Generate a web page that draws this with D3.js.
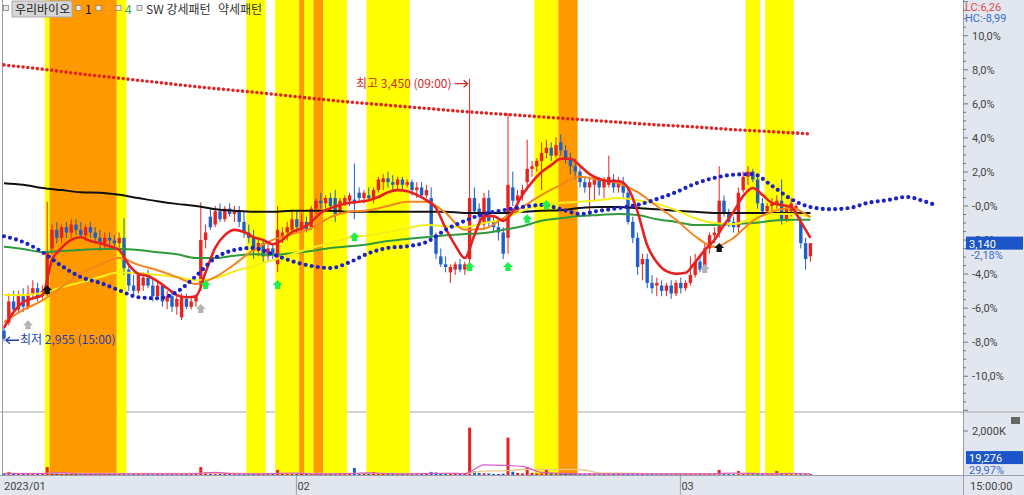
<!DOCTYPE html>
<html><head><meta charset="utf-8">
<script src="https://cdn.jsdelivr.net/npm/d3@7"></script>
<style>
html,body{margin:0;padding:0;background:#fff;}
svg{display:block;font-family:"Noto Sans CJK KR","Noto Sans",sans-serif;}
</style></head><body>
<svg id="c" width="1024" height="495"></svg>
<script>
// ---------------- DATA ----------------
const stockName = "우리바이오";
const basePrice = 3210;                 // reference price for the % axis
const lastPrice = 3140;
const lastPctLabel = "-2,18%";
const lcLabel = "LC:6,26", hcLabel = "HC:-8,99";
const lastVolLabelPct = "29,97%";
const monthLabels = ["2023/01", "02", "03"];
const monthStartBars = [0, 61, 141];
const timeLabel = "15:00:00";
const pctTicks = [10, 8, 6, 4, 2, 0, -2, -4, -6, -8, -10];
const pctTickLabels = ["10,0%","8,0%","6,0%","4,0%","2,0%","-0,0%","-2,0%","-4,0%","-6,0%","-8,0%","-10,0%"];
const volTicks = [2000];
const volTickLabels = ["2,000K"];

// 120-minute candles (169 bars)
const open = [2975,2990,3030,3015,3040,3020,3045,3055,3040,3055,
3130,3165,3150,3170,3160,3175,3165,3155,3170,3160,
3150,3140,3150,3145,3140,3150,3090,3060,3050,3060,
3075,3060,3040,3060,3030,3040,3020,3000,3035,3020,
3030,3060,3146,3190,3175,3200,3185,3205,3195,3200,
3180,3160,3150,3125,3140,3115,3130,3100,3150,3160,
3165,3185,3170,3180,3170,3205,3220,3215,3225,3225,
3200,3215,3220,3222,3235,3225,3230,3225,3240,3255,
3262,3255,3250,3260,3250,3255,3240,3245,3230,3225,
3155,3115,3100,3085,3090,3100,3090,3110,3225,3205,
3175,3225,3180,3170,3160,3150,3245,3220,3230,3255,
3280,3285,3295,3310,3320,3305,3330,3315,3300,3285,
3275,3255,3245,3250,3260,3245,3250,3260,3245,3255,
3235,3180,3150,3100,3110,3065,3060,3060,3050,3060,
3045,3065,3055,3065,3080,3105,3090,3130,3155,3160,
3220,3195,3180,3170,3240,3265,3275,3260,3215,3200,
3210,3215,3220,3185,3200,3205,3180,3140,3115];
const high = [2980,3045,3050,3050,3055,3060,3070,3065,3060,3218,
3175,3180,3175,3180,3185,3185,3180,3175,3180,3170,
3165,3160,3160,3155,3160,3187,3100,3080,3085,3085,
3090,3075,3070,3065,3050,3050,3040,3045,3045,3040,
3045,3217,3175,3205,3210,3215,3210,3215,3210,3210,
3200,3175,3165,3150,3145,3140,3140,3210,3170,3180,
3200,3200,3195,3190,3210,3225,3235,3230,3235,3240,
3225,3230,3235,3290,3245,3240,3245,3245,3265,3270,
3275,3268,3265,3265,3260,3260,3255,3255,3250,3245,
3160,3130,3115,3100,3105,3110,3105,3450,3245,3215,
3235,3240,3190,3180,3170,3385,3275,3240,3250,3335,
3295,3300,3330,3335,3330,3340,3345,3325,3310,3300,
3285,3265,3265,3265,3265,3265,3305,3270,3265,3265,
3245,3190,3160,3120,3120,3080,3075,3070,3065,3070,
3070,3075,3070,3115,3120,3115,3140,3160,3170,3285,
3230,3205,3190,3245,3275,3285,3280,3270,3225,3215,
3225,3230,3260,3210,3225,3215,3190,3150,3140];
const low = [2955,2985,3005,3010,3010,3015,3035,3030,3035,3040,
3120,3140,3140,3150,3150,3155,3150,3145,3150,3140,
3125,3130,3135,3130,3130,3080,3050,3040,3045,3050,
3055,3030,3035,3020,3015,3010,3005,2995,3015,3015,
3020,3050,3130,3165,3170,3180,3180,3190,3180,3170,
3150,3140,3110,3115,3105,3105,3110,3085,3140,3145,
3160,3160,3160,3160,3165,3195,3205,3205,3200,3180,
3195,3210,3210,3185,3220,3215,3220,3215,3235,3240,
3245,3240,3240,3240,3245,3230,3225,3225,3225,3145,
3110,3095,3085,3065,3080,3085,3080,3095,3195,3180,
3165,3170,3160,3145,3110,3120,3210,3205,3220,3240,
3265,3275,3240,3300,3295,3300,3305,3290,3270,3260,
3245,3235,3190,3220,3230,3225,3245,3235,3235,3225,
3175,3140,3080,3070,3055,3045,3040,3040,3040,3035,
3040,3045,3050,3060,3075,3085,3085,3120,3140,3150,
3190,3170,3160,3160,3235,3250,3255,3205,3190,3195,
3200,3205,3175,3180,3190,3195,3130,3090,3105];
const close = [2960,3030,3015,3040,3020,3045,3055,3040,3050,3125,
3165,3150,3170,3160,3175,3165,3155,3170,3160,3150,
3140,3150,3145,3140,3150,3093,3060,3050,3080,3075,
3060,3040,3060,3030,3040,3020,3035,3038,3020,3030,
3040,3146,3160,3170,3200,3185,3205,3195,3200,3180,
3160,3150,3125,3140,3115,3130,3120,3165,3160,3170,
3185,3170,3180,3165,3205,3220,3215,3225,3210,3195,
3220,3225,3230,3215,3225,3235,3225,3240,3260,3262,
3255,3250,3260,3250,3255,3240,3245,3230,3240,3155,
3120,3100,3095,3095,3100,3090,3100,3225,3200,3190,
3225,3180,3170,3160,3120,3250,3220,3230,3240,3280,
3285,3295,3310,3320,3305,3325,3315,3300,3285,3275,
3255,3245,3255,3260,3245,3260,3265,3245,3255,3235,
3180,3150,3095,3110,3065,3055,3065,3050,3060,3045,
3065,3055,3065,3080,3105,3090,3130,3155,3160,3220,
3195,3180,3170,3235,3265,3275,3260,3215,3200,3210,
3215,3220,3185,3205,3215,3210,3140,3110,3140];
// volume in thousands of shares
const volume = [60,140,45,50,40,55,35,45,50,360,
90,60,45,40,50,35,40,55,30,45,
40,35,50,30,45,80,60,40,50,45,
35,40,30,50,40,45,30,60,40,35,
50,360,120,60,45,50,40,35,45,40,
35,40,50,45,30,40,35,230,70,50,
60,45,40,50,55,40,45,35,40,50,
45,40,35,320,60,50,45,140,60,50,
45,40,35,50,40,45,30,40,35,140,
120,50,40,45,35,40,50,2150,160,90,
80,70,50,45,60,1700,150,90,70,360,
100,80,70,230,90,70,60,50,45,40,
40,35,60,40,35,45,50,40,35,45,
60,50,70,45,60,50,40,35,45,40,
35,45,30,60,50,40,60,50,45,230,
70,50,45,180,90,60,50,70,45,40,
40,180,70,50,45,40,60,50,19.276];

// moving-average lines
const ma5Bars = d3.range(0, 169, 2);
const ma5 = [2980,3010,3029,3036,3042,3108,3131,3146,3151,3144,
3140,3134,3127,3099,3082,3078,3068,3055,3042,3038,
3040,3085,3131,3155,3165,3161,3151,3146,3138,3146,
3161,3168,3180,3197,3206,3212,3216,3218,3221,3227,
3236,3240,3238,3231,3221,3206,3168,3136,3112,3155,
3191,3191,3182,3199,3231,3255,3274,3287,3299,3299,
3286,3270,3261,3257,3257,3244,3199,3136,3104,3087,
3082,3084,3104,3127,3146,3174,3199,3229,3244,3231,
3216,3212,3208,3180,3150];
const maBars = d3.range(0, 169, 4);
const ma20 = [2991,3014,3032,3057,3083,3099,3112,3099,3089,3076,3063,3076,3100,3127,3146,3157,3168,3189,3199,3202,3210,3218,3218,3197,3165,3167,3187,3208,3231,3250,3265,3259,3253,3236,3210,3184,3153,3133,3150,3182,3199,3206,3189];
const ma60 = [3042,3042,3046,3057,3066,3076,3085,3083,3080,3076,3070,3074,3087,3097,3108,3119,3131,3140,3150,3155,3161,3168,3174,3172,3170,3178,3185,3201,3212,3216,3218,3221,3225,3221,3214,3202,3187,3178,3176,3187,3195,3195,3189];
const ma120 = [3133,3129,3123,3125,3127,3129,3129,3127,3123,3119,3112,3112,3116,3119,3118,3121,3125,3131,3134,3138,3144,3148,3151,3155,3157,3159,3165,3172,3182,3187,3191,3193,3195,3193,3185,3180,3174,3174,3176,3178,3182,3184,3184];
const ma240 = [3253,3250,3244,3240,3236,3235,3231,3225,3219,3214,3210,3204,3201,3199,3199,3201,3201,3201,3199,3199,3199,3199,3199,3199,3197,3197,3197,3199,3201,3202,3206,3208,3208,3206,3204,3201,3199,3197,3197,3197,3197,3197,3197];
const leadBars = [0,4,8,12,16,20,24,28,32,36,40,44,48,52,56,60,64,68,72,76,80,84,88,92,96,100,104,108,112,116,120,124,128,132,136,140,144,148,152,156,160,164,168,172,176,180,184,188,192,194];
const leadLine = [3153,3142,3123,3097,3076,3065,3051,3038,3036,3048,3078,3112,3127,3131,3119,3106,3097,3093,3104,3121,3131,3134,3142,3165,3182,3195,3202,3208,3212,3204,3195,3201,3206,3212,3223,3236,3252,3263,3269,3270,3248,3223,3208,3204,3206,3216,3221,3227,3218,3212];
const trendBars = d3.range(0, 169, 8);
const trendLine = [3476,3468,3459,3451,3443,3435,3428,3421,3413,3406,3400,3394,3388,3383,3378,3373,3368,3363,3359,3354,3350,3346];
// volume averages (thousands)
const volMa5 = [60,60,60,110,50,50,50,50,50,50,60,120,50,50,60,90,50,50,60,100,60,50,60,80,60,460,440,390,120,80,50,50,50,50,50,50,50,50,90,70,50,80,40];
const volMa20 = [70,70,70,75,75,75,70,70,70,70,70,80,80,75,75,75,70,70,70,75,75,70,70,70,70,180,190,250,260,255,250,100,80,70,65,60,60,60,65,65,65,65,60];

// pattern bands (bar ranges) : y = 강세패턴 (yellow), o = 약세패턴 (orange)
const bandStart = [9,10,24,51,57,62,63,65,67,76,111,116,155,159];
const bandEnd   = [9,23,25,54,61,62,64,66,71,84,115,119,157,164];
const bandType  = ["y","o","y","y","y","o","y","o","y","y","y","o","y","y"];

// signal markers
const markerBars   = [5,9,41,42,57,73,97,105,109,113,146,149];
const markerPrices = [2985,3051,3016,3061,3061,3151,3095,3095,3185,3212,3091,3131];
const markerKinds  = ["gray","black","gray","green","green","green","green","green","green","green","gray","black"];

// ---------------- DRAW ----------------
const svg = d3.select("#c");
const W = 1024, H = 495, axisX = 963, sepY = 412, volBase = 475;
const x = d3.scaleLinear().domain([0, 168]).range([4, 810.4]);
const yPct = d3.scaleLinear().domain([-12.1, 12.1]).range([412, 0]);
const y = p => yPct((p / basePrice - 1) * 100);
const yVol = d3.scaleLinear().domain([0, 2000]).range([volBase, 431]);
const half = (x(1) - x(0)) / 2;

svg.append("rect").attr("width", W).attr("height", H).attr("fill", "#fff");
// right axis panel + date axis panel
svg.append("rect").attr("x", axisX).attr("y", 0).attr("width", W - axisX).attr("height", H).attr("fill", "#e1e6ef");
svg.append("rect").attr("x", 0).attr("y", volBase).attr("width", W).attr("height", H - volBase).attr("fill", "#e1e6ef");

// separator between price & volume
svg.append("line").attr("x1", 0).attr("x2", W).attr("y1", sepY).attr("y2", sepY).attr("stroke", "#a8a8a8").attr("stroke-width", 1.2);

// bands
const bandColor = {y: "#ffff00", o: "#ff9900"};
svg.append("g").selectAll("rect").data(bandStart).join("rect")
  .attr("x", (s) => x(s) - half)
  .attr("width", (s, i) => x(bandEnd[i]) - x(s) + 2 * half)
  .attr("y", 0).attr("height", volBase)
  .attr("fill", (s, i) => bandColor[bandType[i]]);

// left border
svg.append("line").attr("x1", 2.5).attr("x2", 2.5).attr("y1", 0).attr("y2", volBase).attr("stroke", "#9a9a9a");

// trend dotted line
const lineGen = (bars) => d3.line().x((d, i) => x(bars[i])).y(d => y(d)).curve(d3.curveMonotoneX);
svg.append("path").attr("d", lineGen(trendBars)(trendLine)).attr("fill", "none")
  .attr("stroke", "#e02424").attr("stroke-width", 3.6).attr("stroke-linecap", "round").attr("stroke-dasharray", "0,4.8");

// candles
const cg = svg.append("g");
const up = "#e8231f", dn = "#1f5fcc";
const idx = d3.range(open.length);
cg.selectAll("line").data(idx).join("line")
  .attr("x1", i => x(i)).attr("x2", i => x(i))
  .attr("y1", i => y(high[i])).attr("y2", i => y(low[i]))
  .attr("stroke", i => close[i] >= open[i] ? up : dn).attr("stroke-width", 1);
cg.selectAll("rect").data(idx).join("rect")
  .attr("x", i => x(i) - 1.7).attr("width", 3.4)
  .attr("y", i => y(Math.max(open[i], close[i])))
  .attr("height", i => Math.max(1, Math.abs(y(open[i]) - y(close[i]))))
  .attr("fill", i => close[i] >= open[i] ? up : dn);

// moving averages
const addLine = (bars, vals, color, w) => svg.append("path").attr("d", lineGen(bars)(vals))
  .attr("fill", "none").attr("stroke", color).attr("stroke-width", w).attr("stroke-linejoin", "round");
addLine(maBars, ma240, "#111111", 2);
addLine(maBars, ma120, "#2f9a3c", 2);
addLine(maBars, ma60, "#f4ee1c", 2);
addLine(maBars, ma20, "#f5861f", 2);
addLine(ma5Bars, ma5, "#e52222", 2.6);

// leading dotted line
svg.append("path").attr("d", lineGen(leadBars)(leadLine)).attr("fill", "none")
  .attr("stroke", "#1c22c8").attr("stroke-width", 4.2).attr("stroke-linecap", "round").attr("stroke-dasharray", "0,6.2");

// markers
const markerColor = {black: "#111", gray: "#b4b4b4", green: "#1ef04a"};
svg.append("g").selectAll("path").data(markerBars).join("path")
  .attr("d", "M0,-5L5,0L2.6,0L2.6,4L-2.6,4L-2.6,0L-5,0Z")
  .attr("transform", (b, i) => `translate(${x(b)},${y(markerPrices[i])})`)
  .attr("fill", (b, i) => markerColor[markerKinds[i]]);

// high / low annotations
const hiI = d3.maxIndex(high), loI = d3.minIndex(low);
const fmt = d3.format(",");
const hiY = y(high[hiI]) + 5;
svg.append("text").attr("x", x(hiI) - 18).attr("y", hiY + 4).attr("text-anchor", "end")
  .attr("font-size", 12).attr("fill", "#d42a2a").text(`최고 ${fmt(high[hiI])} (09:00)`);
svg.append("path").attr("d", `M${x(hiI) - 15},${hiY}H${x(hiI) - 2}M${x(hiI) - 6},${hiY - 3.5}L${x(hiI) - 2},${hiY}L${x(hiI) - 6},${hiY + 3.5}`)
  .attr("stroke", "#d42a2a").attr("stroke-width", 1.3).attr("fill", "none");
const loY = y(low[loI]) - 1;
svg.append("path").attr("d", `M${x(loI) + 2},${loY}H${x(loI) + 15}M${x(loI) + 6},${loY - 3.5}L${x(loI) + 2},${loY}L${x(loI) + 6},${loY + 3.5}`)
  .attr("stroke", "#1f3fb0").attr("stroke-width", 1.3).attr("fill", "none");
svg.append("text").attr("x", x(loI) + 16).attr("y", loY + 4)
  .attr("font-size", 12).attr("fill", "#1f3fb0").text(`최저 ${fmt(low[loI])} (15:00)`);

// volume bars
svg.append("g").selectAll("rect").data(idx).join("rect")
  .attr("x", i => x(i) - 1.5).attr("width", 3)
  .attr("y", i => Math.min(yVol(volume[i]), volBase - 1))
  .attr("height", i => Math.max(1, volBase - yVol(volume[i])))
  .attr("fill", i => close[i] >= open[i] ? up : dn);
const vLine = d3.line().x((d, i) => x(maBars[i])).y(d => yVol(d)).curve(d3.curveMonotoneX);
svg.append("path").attr("d", vLine(volMa20)).attr("fill", "none").attr("stroke", "#e8c888").attr("stroke-width", 1.3);
svg.append("path").attr("d", vLine(volMa5)).attr("fill", "none").attr("stroke", "#d85ac8").attr("stroke-width", 1.2);

// right axis
svg.append("line").attr("x1", axisX + 0.5).attr("x2", axisX + 0.5).attr("y1", 0).attr("y2", H).attr("stroke", "#9aa0aa");
const ag = svg.append("g").attr("font-size", 11).attr("fill", "#444").attr("font-family", "Roboto, 'Noto Sans', sans-serif");
d3.range(-12, 12.01, 0.5).forEach(v => {
  const major = Math.abs(v % 2) < 1e-9;
  ag.append("line").attr("x1", axisX).attr("x2", axisX + (major ? 5 : 3))
    .attr("y1", yPct(v)).attr("y2", yPct(v)).attr("stroke", "#777");
});
pctTicks.forEach((v, i) => {
  ag.append("text").attr("x", axisX + 9).attr("y", yPct(v) + 4).text(pctTickLabels[i]);
});
volTicks.forEach((v, i) => {
  ag.append("line").attr("x1", axisX).attr("x2", axisX + 5).attr("y1", yVol(v)).attr("y2", yVol(v)).attr("stroke", "#777");
  ag.append("text").attr("x", axisX + 9).attr("y", yVol(v) + 4).text(volTickLabels[i]);
});
ag.append("rect").attr("x", 1011).attr("y", 417).attr("width", 9).attr("height", 7).attr("fill", "#666");

// LC / HC
ag.append("text").attr("x", axisX + 2).attr("y", 11).attr("fill", "#e04848").text(lcLabel);
ag.append("text").attr("x", axisX + 2).attr("y", 22).attr("fill", "#3a6cc8").text(hcLabel);

// last price box (drawn over the -2,0% tick label, as in the source chart)
const lpY = y(lastPrice);
ag.append("rect").attr("x", axisX + 3).attr("y", lpY - 6.5).attr("width", 57).attr("height", 13).attr("fill", "#1c55c8");
ag.append("text").attr("x", axisX + 6).attr("y", lpY + 4.5).attr("fill", "#fff").text(fmt(lastPrice));
ag.append("text").attr("x", axisX + 8).attr("y", lpY + 16).attr("fill", "#3a6cc8").text(lastPctLabel);
// last volume box
const lv = volume[volume.length - 1];
const lvY = yVol(lv) - 17;
ag.append("rect").attr("x", axisX + 3).attr("y", lvY - 6.5).attr("width", 57).attr("height", 13).attr("fill", "#1c55c8");
ag.append("text").attr("x", axisX + 6).attr("y", lvY + 4.5).attr("fill", "#fff").text(fmt(Math.round(lv * 1000)));
ag.append("text").attr("x", axisX + 6).attr("y", lvY + 16).attr("fill", "#3a6cc8").text(lastVolLabelPct);

// date axis
svg.append("line").attr("x1", 0).attr("x2", W).attr("y1", volBase + 0.5).attr("y2", volBase + 0.5).attr("stroke", "#9aa0aa");
const dg = svg.append("g").attr("font-size", 11).attr("fill", "#444").attr("font-family", "Roboto, 'Noto Sans', sans-serif");
monthStartBars.forEach((b, i) => {
  const px = i === 0 ? 3 : x(b) - half + 2;
  if (i > 0) dg.append("line").attr("x1", px).attr("x2", px).attr("y1", volBase).attr("y2", H).attr("stroke", "#9aa0aa");
  dg.append("text").attr("x", px + 1).attr("y", 490).text(monthLabels[i]);
});
dg.append("text").attr("x", axisX + 7).attr("y", 490).text(timeLabel);

// legend
const lg = svg.append("g").attr("font-size", 12);
const sq = (px) => lg.append("rect").attr("x", px).attr("y", 5.5).attr("width", 5).attr("height", 5).attr("fill", "#e8e8e8").attr("stroke", "#888").attr("stroke-width", 0.8);
sq(3.5);
lg.append("rect").attr("x", 12).attr("y", 1).attr("width", 60).attr("height", 16).attr("fill", "#d6d6d6").attr("stroke", "#aaa");
lg.append("text").attr("x", 15).attr("y", 13.5).attr("fill", "#222").text(stockName);
const legendNames = ["1", "2", "4"];
const legendColors = ["#111", "#f5a048", "#3aa83a"];
const legendX = [76, 96, 116];
legendNames.forEach((t, i) => {
  sq(legendX[i]);
  lg.append("text").attr("x", legendX[i] + 9).attr("y", 13.5).attr("fill", legendColors[i]).text(t);
});
sq(137);
lg.append("text").attr("x", 146).attr("y", 13.5).attr("fill", "#333").text("SW 강세패턴");
lg.append("text").attr("x", 218).attr("y", 13.5).attr("fill", "#333").text("약세패턴");
</script>
</body></html>
